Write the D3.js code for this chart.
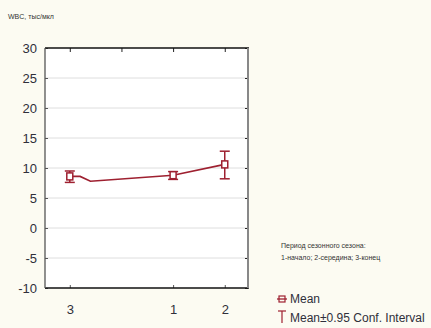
<!DOCTYPE html>
<html>
<head>
<meta charset="utf-8">
<script src="https://cdn.jsdelivr.net/npm/d3@7"></script>
<style>
  body { margin: 0; background: #fcfbf2; }
  svg { display: block; }
  .tick-lbl { font-family: "Liberation Sans Narrow", "Liberation Sans", sans-serif; font-size: 13px; fill: #2f2f3a; }
  .small { font-family: "Liberation Sans Narrow", "Liberation Sans", sans-serif; font-size: 7px; fill: #333; }
</style>
</head>
<body>
<div id="viz-area"></div>
<script>
// periods in the order they sit on the x axis, and where they sit
const periods   = ["3", "1", "2"];
const periodPos = [0, 2, 3];
const means     = [8.6, 8.8, 10.6];
const ciLow     = [7.6, 8.1, 8.2];
const ciHigh    = [9.5, 9.4, 12.8];
// the mean line as it was drawn (small dip after the first point)
const linePos   = [0, 0.2, 0.4, 2, 3];
const lineVal   = [8.6, 8.6, 7.8, 8.8, 10.6];
const yTicks    = [-10, -5, 0, 5, 10, 15, 20, 25, 30];
const topTicks  = [0, 1, 2, 3];

const W = 431, H = 328;
const PLOT = { LEFT: 45, RIGHT: 248, TOP: 48, BOTTOM: 288 };
const RED = "#9e2030";

const svg = d3.select("#viz-area").append("svg")
  .attr("width", W).attr("height", H);

const x = d3.scaleLinear().domain([-0.48, 3.45]).range([PLOT.LEFT, PLOT.RIGHT]);
const y = d3.scaleLinear().domain([-10, 30]).range([PLOT.BOTTOM, PLOT.TOP]);

// plot background
svg.append("rect")
  .attr("x", PLOT.LEFT).attr("y", PLOT.TOP)
  .attr("width", PLOT.RIGHT - PLOT.LEFT).attr("height", PLOT.BOTTOM - PLOT.TOP)
  .attr("fill", "#fff");

// grid
svg.append("g").selectAll("line")
  .data(yTicks.slice(1, -1)).enter().append("line")
  .attr("x1", PLOT.LEFT).attr("x2", PLOT.RIGHT)
  .attr("y1", d => y(d)).attr("y2", d => y(d))
  .attr("stroke", "#dedede").attr("stroke-width", 1);

// axes via d3
const yLeft = svg.append("g")
  .attr("transform", `translate(${PLOT.LEFT},0)`)
  .call(d3.axisLeft(y).tickValues(yTicks).tickSize(-3).tickPadding(8).tickFormat(d => String(d)));
yLeft.select(".domain").remove();
yLeft.selectAll("line").attr("stroke", "#555");
yLeft.selectAll("text").attr("class", "tick-lbl").attr("dy", "0.35em").style("font-size", null).style("font-family", null).attr("fill", null);

const yRight = svg.append("g")
  .attr("transform", `translate(${PLOT.RIGHT},0)`)
  .call(d3.axisRight(y).tickValues(yTicks).tickSize(-3).tickFormat(""));
yRight.select(".domain").remove();
yRight.selectAll("line").attr("stroke", "#222");

const xBottom = svg.append("g")
  .attr("transform", `translate(0,${PLOT.BOTTOM})`)
  .call(d3.axisBottom(x).tickValues(periodPos).tickSize(-3).tickPadding(17)
    .tickFormat((d, i) => periods[i]));
xBottom.select(".domain").remove();
xBottom.selectAll("line").attr("stroke", "#555");
xBottom.selectAll("text").attr("class", "tick-lbl").style("font-size", null).style("font-family", null).attr("fill", null);

const xTop = svg.append("g")
  .attr("transform", `translate(0,${PLOT.TOP})`)
  .call(d3.axisTop(x).tickValues(topTicks).tickSize(-4).tickFormat(""));
xTop.select(".domain").remove();
xTop.selectAll("line").attr("stroke", "#222");

// frame
svg.append("line").attr("x1", PLOT.LEFT).attr("x2", PLOT.RIGHT + 1)
  .attr("y1", PLOT.TOP).attr("y2", PLOT.TOP).attr("stroke", "#111").attr("stroke-width", 1.3);
svg.append("line").attr("x1", PLOT.LEFT).attr("x2", PLOT.RIGHT + 1)
  .attr("y1", PLOT.BOTTOM).attr("y2", PLOT.BOTTOM).attr("stroke", "#111").attr("stroke-width", 1.3);
svg.append("line").attr("x1", PLOT.LEFT).attr("x2", PLOT.LEFT)
  .attr("y1", PLOT.TOP).attr("y2", PLOT.BOTTOM).attr("stroke", "#555").attr("stroke-width", 1.3);
svg.append("line").attr("x1", PLOT.RIGHT).attr("x2", PLOT.RIGHT)
  .attr("y1", PLOT.TOP).attr("y2", PLOT.BOTTOM).attr("stroke", "#888").attr("stroke-width", 2);

// mean line
const line = d3.line().x(d => x(d[0])).y(d => y(d[1]));
svg.append("path")
  .attr("d", line(linePos.map((p, i) => [p, lineVal[i]])))
  .attr("fill", "none").attr("stroke", RED).attr("stroke-width", 1.6);

// error bars + markers
const pts = periods.map((p, i) => ({ pos: periodPos[i], m: means[i], lo: ciLow[i], hi: ciHigh[i] }));
const eb = svg.append("g").selectAll("g").data(pts).enter().append("g")
  .attr("stroke", RED).attr("stroke-width", 1.5).attr("fill", "none");
eb.append("line").attr("x1", d => x(d.pos)).attr("x2", d => x(d.pos))
  .attr("y1", d => y(d.lo)).attr("y2", d => y(d.hi));
eb.append("line").attr("x1", d => x(d.pos) - 5).attr("x2", d => x(d.pos) + 5)
  .attr("y1", d => y(d.lo)).attr("y2", d => y(d.lo));
eb.append("line").attr("x1", d => x(d.pos) - 5).attr("x2", d => x(d.pos) + 5)
  .attr("y1", d => y(d.hi)).attr("y2", d => y(d.hi));
eb.append("rect").attr("x", d => x(d.pos) - 3).attr("y", d => y(d.m) - 3.5)
  .attr("width", 6).attr("height", 7).attr("fill", "#fff");

// y label
svg.append("text").attr("class", "small").attr("x", 8).attr("y", 19).text("WBC, тыс/мкл");

// grouping note
svg.append("text").attr("class", "small").attr("x", 281).attr("y", 248).text("Период сезонного сезона:");
svg.append("text").attr("class", "small").attr("x", 281).attr("y", 260).text("1-начало; 2-середина; 3-конец");

// legend
const lg = svg.append("g");
lg.append("line").attr("x1", 277).attr("x2", 287).attr("y1", 299).attr("y2", 299)
  .attr("stroke", RED).attr("stroke-width", 1.3);
lg.append("rect").attr("x", 279).attr("y", 296).attr("width", 6).attr("height", 6)
  .attr("fill", "none").attr("stroke", RED).attr("stroke-width", 1.2);
lg.append("text").attr("class", "tick-lbl").attr("x", 290).attr("y", 303).style("font-size", "12px").text("Mean");
lg.append("line").attr("x1", 278).attr("x2", 286).attr("y1", 311).attr("y2", 311)
  .attr("stroke", RED).attr("stroke-width", 1.2);
lg.append("line").attr("x1", 282).attr("x2", 282).attr("y1", 311).attr("y2", 323)
  .attr("stroke", RED).attr("stroke-width", 1.2);
lg.append("text").attr("class", "tick-lbl").attr("x", 290).attr("y", 322).style("font-size", "12px").text("Mean±0.95 Conf. Interval");
</script>
</body>
</html>
